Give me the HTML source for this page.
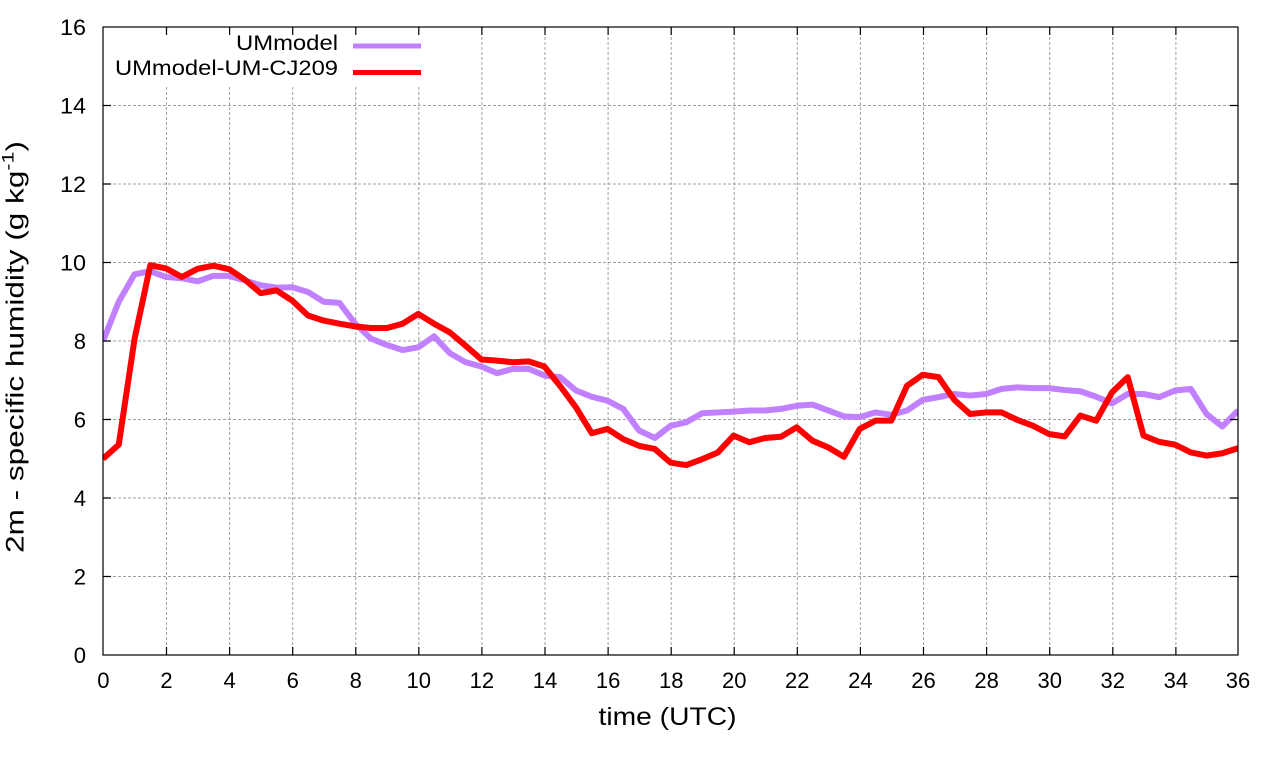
<!DOCTYPE html>
<html><head><meta charset="utf-8"><style>
html,body{margin:0;padding:0;background:#fff;}
svg{display:block;}
text{font-family:"Liberation Sans",Arial,sans-serif;fill:#000;}
</style></head><body>
<svg width="1280" height="760" viewBox="0 0 1280 760" xmlns="http://www.w3.org/2000/svg">
<defs><clipPath id="pc"><rect x="103" y="27" width="1135" height="628"/></clipPath></defs>
<rect width="1280" height="760" fill="#fff"/>
<g stroke="#a0a0a0" stroke-width="1" stroke-dasharray="3,2" fill="none">
<path d="M166.5 27V655M229.6 27V655M292.7 27V655M355.8 27V655M418.8 27V655M481.9 27V655M545 27V655M608.1 27V655M671.2 27V655M734.2 27V655M797.3 27V655M860.4 27V655M923.5 27V655M986.6 27V655M1049.7 27V655M1112.8 27V655M1175.9 27V655"/>
<path d="M103 576.5H1238M103 498H1238M103 419.5H1238M103 341H1238M103 262.5H1238M103 184H1238M103 105.5H1238"/>
</g>
<rect x="104" y="28" width="322" height="57" fill="#fff"/>
<g clip-path="url(#pc)">
<g transform="translate(103,655) scale(31.53,-39.25)">
<polyline fill="none" stroke="#c080ff" stroke-width="6" vector-effect="non-scaling-stroke" stroke-linejoin="round" points="0,8.0 0.5,9.0 1,9.7 1.5,9.78 2,9.63 2.5,9.6 3,9.52 3.5,9.66 4,9.66 4.5,9.54 5,9.42 5.5,9.36 6,9.37 6.5,9.25 7,9.0 7.5,8.97 8,8.44 8.5,8.06 9,7.9 9.5,7.77 10,7.84 10.5,8.12 11,7.69 11.5,7.46 12,7.35 12.5,7.18 13,7.29 13.5,7.29 14,7.12 14.5,7.08 15,6.74 15.5,6.58 16,6.48 16.5,6.27 17,5.72 17.5,5.53 18,5.84 18.5,5.93 19,6.16 19.5,6.18 20,6.2 20.5,6.23 21,6.23 21.5,6.27 22,6.35 22.5,6.38 23,6.23 23.5,6.08 24,6.06 24.5,6.18 25,6.12 25.5,6.23 26,6.5 26.5,6.57 27,6.65 27.5,6.61 28,6.65 28.5,6.78 29,6.82 29.5,6.8 30,6.8 30.5,6.75 31,6.72 31.5,6.58 32,6.41 32.5,6.65 33,6.65 33.5,6.57 34,6.74 34.5,6.78 35,6.14 35.5,5.82 36,6.23"/>
<polyline fill="none" stroke="#ff0000" stroke-width="6" vector-effect="non-scaling-stroke" stroke-linejoin="round" points="0,5.0 0.5,5.36 1,8.05 1.5,9.93 2,9.85 2.5,9.63 3,9.84 3.5,9.92 4,9.83 4.5,9.56 5,9.22 5.5,9.29 6,9.03 6.5,8.65 7,8.52 7.5,8.44 8,8.37 8.5,8.33 9,8.33 9.5,8.44 10,8.69 10.5,8.44 11,8.22 11.5,7.88 12,7.53 12.5,7.5 13,7.46 13.5,7.48 14,7.35 14.5,6.85 15,6.31 15.5,5.65 16,5.76 16.5,5.5 17,5.33 17.5,5.25 18,4.9 18.5,4.84 19,4.99 19.5,5.16 20,5.59 20.5,5.42 21,5.53 21.5,5.56 22,5.8 22.5,5.46 23,5.29 23.5,5.05 24,5.76 24.5,5.97 25,5.97 25.5,6.86 26,7.14 26.5,7.08 27,6.5 27.5,6.14 28,6.18 28.5,6.18 29,5.99 29.5,5.84 30,5.63 30.5,5.57 31,6.1 31.5,5.97 32,6.69 32.5,7.08 33,5.59 33.5,5.43 34,5.36 34.5,5.16 35,5.08 35.5,5.14 36,5.27"/>
</g>
</g>
<g stroke="#000" stroke-width="1.2" fill="none">
<rect x="103" y="27" width="1135" height="628"/>
<path d="M166.5 655v-8M229.6 655v-8M292.7 655v-8M355.8 655v-8M418.8 655v-8M481.9 655v-8M545 655v-8M608.1 655v-8M671.2 655v-8M734.2 655v-8M797.3 655v-8M860.4 655v-8M923.5 655v-8M986.6 655v-8M1049.7 655v-8M1112.8 655v-8M1175.9 655v-8"/>
<path d="M166.5 27v8M229.6 27v8M292.7 27v8M355.8 27v8M418.8 27v8M481.9 27v8M545 27v8M608.1 27v8M671.2 27v8M734.2 27v8M797.3 27v8M860.4 27v8M923.5 27v8M986.6 27v8M1049.7 27v8M1112.8 27v8M1175.9 27v8"/>
<path d="M103 576.5h8M103 498h8M103 419.5h8M103 341h8M103 262.5h8M103 184h8M103 105.5h8"/>
<path d="M1238 576.5h-8M1238 498h-8M1238 419.5h-8M1238 341h-8M1238 262.5h-8M1238 184h-8M1238 105.5h-8"/>
</g>
<g font-size="22" text-anchor="end">
<text x="86" y="663">0</text>
<text x="86" y="584.5">2</text>
<text x="86" y="506">4</text>
<text x="86" y="427.5">6</text>
<text x="86" y="349">8</text>
<text x="86" y="270.5" textLength="26" lengthAdjust="spacingAndGlyphs">10</text>
<text x="86" y="192" textLength="26" lengthAdjust="spacingAndGlyphs">12</text>
<text x="86" y="113.5" textLength="26" lengthAdjust="spacingAndGlyphs">14</text>
<text x="86" y="35" textLength="26" lengthAdjust="spacingAndGlyphs">16</text>
</g>
<g font-size="22" text-anchor="middle">
<text x="103.4" y="688">0</text>
<text x="166.5" y="688">2</text>
<text x="229.6" y="688">4</text>
<text x="292.7" y="688">6</text>
<text x="355.8" y="688">8</text>
<text x="418.8" y="688">10</text>
<text x="481.9" y="688">12</text>
<text x="545" y="688">14</text>
<text x="608.1" y="688">16</text>
<text x="671.2" y="688">18</text>
<text x="734.2" y="688">20</text>
<text x="797.3" y="688">22</text>
<text x="860.4" y="688">24</text>
<text x="923.5" y="688">26</text>
<text x="986.6" y="688">28</text>
<text x="1049.7" y="688">30</text>
<text x="1112.8" y="688">32</text>
<text x="1175.9" y="688">34</text>
<text x="1238" y="688">36</text>
</g>
<text x="667.5" y="725" font-size="25" text-anchor="middle" textLength="138" lengthAdjust="spacingAndGlyphs">time (UTC)</text>
<text transform="translate(23.5,347) rotate(-90)" font-size="25" text-anchor="middle" textLength="412" lengthAdjust="spacingAndGlyphs">2m - specific humidity (g kg<tspan font-size="17" dy="-10">-1</tspan><tspan dy="10">)</tspan></text>
<text x="338" y="50" font-size="21" text-anchor="end" textLength="102" lengthAdjust="spacingAndGlyphs">UMmodel</text>
<text x="338" y="75" font-size="21" text-anchor="end" textLength="223" lengthAdjust="spacingAndGlyphs">UMmodel-UM-CJ209</text>
<line x1="353" y1="46" x2="421" y2="46" stroke="#c080ff" stroke-width="5"/>
<line x1="353" y1="72.5" x2="421" y2="72.5" stroke="#ff0000" stroke-width="5"/>
</svg>
</body></html>
